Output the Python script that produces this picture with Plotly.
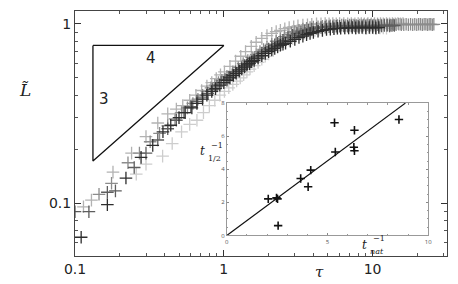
import plotly.graph_objects as go

# ---------------- data: main panel (L~ vs tau), five runs ----------------
tau_a = [0.11, 0.165, 0.22, 0.278, 0.333, 0.39, 0.44, 0.5, 0.55, 0.61,
         0.66, 0.72, 0.77, 0.83, 0.88, 0.94, 1.0, 1.05, 1.1, 1.16,
         1.21, 1.27, 1.32, 1.38, 1.43, 1.49, 1.54, 1.6, 1.7, 1.8,
         1.9, 2.0, 2.1, 2.2, 2.3, 2.4, 2.5, 2.6, 2.8, 3.0,
         3.2, 3.4, 3.6, 3.8, 4.0, 4.3, 4.6, 4.9, 5.2, 5.5,
         5.8, 6.1, 6.5, 6.9, 7.3, 7.7, 8.1, 8.5, 9.0, 9.5,
         10.0, 10.5, 11.0]
L_a = [0.0645, 0.098, 0.138, 0.18, 0.21, 0.25, 0.272, 0.30, 0.32, 0.34,
       0.36, 0.38, 0.40, 0.42, 0.435, 0.455, 0.47, 0.485, 0.50, 0.515,
       0.53, 0.545, 0.56, 0.575, 0.59, 0.60, 0.615, 0.625, 0.645, 0.665,
       0.685, 0.70, 0.715, 0.73, 0.745, 0.76, 0.77, 0.78, 0.80, 0.82,
       0.84, 0.855, 0.87, 0.885, 0.895, 0.91, 0.92, 0.93, 0.935, 0.94,
       0.945, 0.945, 0.95, 0.95, 0.955, 0.95, 0.955, 0.955, 0.95, 0.955,
       0.955, 0.95, 0.955]

tau_b = [0.1, 0.124, 0.165, 0.187, 0.25, 0.3, 0.36, 0.42, 0.48, 0.54,
         0.6, 0.66, 0.72, 0.78, 0.84, 0.9, 0.96, 1.02, 1.08, 1.14,
         1.2, 1.26, 1.32, 1.38, 1.44, 1.5, 1.6, 1.7, 1.8, 1.9,
         2.0, 2.1, 2.2, 2.3, 2.4, 2.5, 2.7, 2.9, 3.1, 3.3,
         3.5, 3.7, 3.9, 4.2, 4.5, 4.8, 5.1, 5.4, 5.7, 6.0,
         6.4, 6.8, 7.2, 7.6, 8.0, 8.5, 9.0, 9.5, 10.0, 10.5,
         11.0, 11.5, 12.0, 12.5, 13.0, 13.5, 14.0]
L_b = [0.0896, 0.0896, 0.115, 0.117, 0.158, 0.19, 0.225, 0.26, 0.29, 0.32,
       0.345, 0.37, 0.39, 0.41, 0.43, 0.45, 0.47, 0.49, 0.505, 0.52,
       0.54, 0.555, 0.57, 0.585, 0.60, 0.615, 0.64, 0.66, 0.685, 0.705,
       0.725, 0.745, 0.76, 0.78, 0.795, 0.81, 0.84, 0.865, 0.885, 0.90,
       0.915, 0.925, 0.935, 0.945, 0.955, 0.96, 0.965, 0.965, 0.97, 0.97,
       0.975, 0.97, 0.975, 0.975, 0.97, 0.975, 0.975, 0.98, 0.975, 0.975,
       0.98, 0.975, 0.98, 0.98, 0.975, 0.98, 0.98]

tau_c = [0.145, 0.176, 0.227, 0.271, 0.32, 0.37, 0.42, 0.47, 0.52, 0.57,
         0.62, 0.67, 0.72, 0.77, 0.82, 0.87, 0.92, 0.97, 1.05, 1.15,
         1.25, 1.35, 1.45, 1.55, 1.65, 1.75, 1.85, 1.95, 2.1, 2.25,
         2.4, 2.55, 2.7, 2.85, 3.0, 3.2, 3.4, 3.6, 3.8, 4.0,
         4.3, 4.6, 4.9, 5.2, 5.5, 5.8, 6.2, 6.6, 7.0, 7.4,
         7.8, 8.2, 8.7, 9.2, 9.7, 10.2, 10.8, 11.4, 12.0, 12.6,
         13.2, 13.8, 14.4, 15.0, 15.6, 16.2, 16.8, 17.4, 18.0, 18.6,
         19.2, 19.8, 20.4, 21.0, 21.6, 22.2, 22.8, 23.4, 24.0, 24.6,
         25.2, 25.8]
L_c = [0.112, 0.129, 0.168, 0.19, 0.22, 0.245, 0.27, 0.295, 0.32, 0.34,
       0.36, 0.38, 0.40, 0.42, 0.44, 0.455, 0.47, 0.485, 0.51, 0.54,
       0.57, 0.60, 0.625, 0.65, 0.675, 0.70, 0.72, 0.74, 0.77, 0.80,
       0.825, 0.85, 0.87, 0.89, 0.905, 0.92, 0.935, 0.945, 0.955, 0.96,
       0.965, 0.97, 0.975, 0.975, 0.98, 0.98, 0.985, 0.98, 0.985, 0.985,
       0.98, 0.985, 0.985, 0.99, 0.985, 0.985, 0.99, 0.985, 0.99, 0.99,
       0.985, 0.99, 0.99, 0.995, 0.99, 0.99, 0.995, 0.99, 0.995, 0.99,
       0.995, 0.99, 0.995, 0.995, 0.99, 0.995, 0.995, 0.99, 0.995, 0.995,
       0.99, 0.995]

tau_d = [0.114, 0.129, 0.18, 0.24, 0.3, 0.36, 0.42, 0.48, 0.53, 0.59,
         0.65, 0.71, 0.77, 0.83, 0.89, 0.95, 1.01, 1.1, 1.2, 1.3,
         1.4, 1.53, 1.65, 1.8, 1.95, 2.1, 2.25, 2.4, 2.57, 2.75,
         2.95, 3.15, 3.4, 3.65, 3.9, 4.2, 4.5, 4.8, 5.1, 5.4,
         5.7, 6.0, 6.4, 6.8, 7.2, 7.6, 8.0, 8.4, 8.8, 9.3,
         9.8, 10.3, 10.8, 11.3, 11.8, 12.4, 13.0, 13.6, 14.2, 14.8,
         15.4, 16.0]
L_d = [0.0954, 0.104, 0.149, 0.19, 0.235, 0.28, 0.315, 0.335, 0.35, 0.375,
       0.40, 0.425, 0.45, 0.47, 0.495, 0.52, 0.54, 0.58, 0.62, 0.66,
       0.70, 0.75, 0.79, 0.83, 0.86, 0.885, 0.905, 0.92, 0.94, 0.955,
       0.965, 0.975, 0.985, 0.99, 0.995, 1.0, 1.0, 1.005, 1.0, 1.005,
       1.0, 1.005, 1.005, 1.0, 1.005, 1.0, 1.005, 1.005, 1.0, 1.005,
       1.0, 1.005, 1.0, 1.005, 1.0, 1.005, 1.0, 1.005, 1.0, 1.005,
       1.0, 1.005]

tau_e = [0.258, 0.3, 0.388, 0.45, 0.52, 0.59, 0.66, 0.73, 0.8, 0.87,
         0.94, 1.01, 1.08, 1.15, 1.22, 1.29, 1.36, 1.43, 1.5, 1.6,
         1.7, 1.8, 1.9, 2.0, 2.15, 2.3, 2.45, 2.6, 2.75, 2.9,
         3.05, 3.25, 3.45, 3.65, 3.85, 4.1, 4.35, 4.6, 4.9, 5.2,
         5.5, 5.8, 6.1, 6.5, 6.9, 7.3, 7.7, 8.1, 8.6, 9.1,
         9.6, 10.1, 10.6, 11.2, 11.8, 12.4]
L_e = [0.145, 0.165, 0.183, 0.215, 0.25, 0.275, 0.29, 0.32, 0.35, 0.375,
       0.40, 0.42, 0.44, 0.46, 0.48, 0.50, 0.52, 0.54, 0.56, 0.585,
       0.61, 0.635, 0.66, 0.68, 0.71, 0.74, 0.765, 0.79, 0.81, 0.83,
       0.85, 0.87, 0.885, 0.90, 0.91, 0.92, 0.93, 0.935, 0.94, 0.94,
       0.945, 0.945, 0.95, 0.945, 0.95, 0.95, 0.945, 0.95, 0.95, 0.945,
       0.95, 0.95, 0.945, 0.95, 0.95, 0.945]

series = [  # (tau, L, grey shade) drawn light first, dark on top
    (tau_e, L_e, "#cdcdcd"),
    (tau_d, L_d, "#b2b2b2"),
    (tau_c, L_c, "#8c8c8c"),
    (tau_b, L_b, "#5e5e5e"),
    (tau_a, L_a, "#2e2e2e"),
]

# slope triangle (3:4) vertices in data units
tri_tau = [0.132, 1.0, 0.132, 0.132]
tri_L = [0.758, 0.758, 0.172, 0.758]

# ---------------- data: inset ----------------
inv_tnat = [2.06, 2.47, 2.52, 2.55, 3.67, 4.17, 4.04, 5.35, 5.39, 6.34, 6.31, 6.34, 8.55]
inv_thalf = [2.21, 2.27, 2.21, 0.59, 3.44, 3.95, 2.94, 6.81, 5.04, 6.36, 5.33, 5.12, 7.01]
fit_x = [0, 8.87]
fit_y = [0, 8]

main_ticks = [0.1, 1, 10]
main_ticktext = ["0.1", "1", "10"]
y_ticks = [0.1, 1]
y_ticktext = ["0.1", "1"]

# ---------------- figure ----------------
fig = go.Figure()
for t, L, col in series:
    fig.add_trace(go.Scatter(
        x=t, y=L, mode="markers", showlegend=False,
        marker=dict(symbol="cross-thin", size=9, line=dict(width=1.3, color=col), color=col),
        xaxis="x", yaxis="y"))

fig.add_trace(go.Scatter(x=tri_tau, y=tri_L, mode="lines", showlegend=False,
                         line=dict(color="#111", width=1.3), xaxis="x", yaxis="y"))

fig.add_trace(go.Scatter(x=fit_x, y=fit_y, mode="lines", showlegend=False,
                         line=dict(color="#111", width=1.2), xaxis="x2", yaxis="y2"))
fig.add_trace(go.Scatter(x=inv_tnat, y=inv_thalf, mode="markers", showlegend=False,
                         marker=dict(symbol="cross-thin", size=6, line=dict(width=1.6, color="#111")),
                         xaxis="x2", yaxis="y2"))

L_l, L_r, L_t, L_b = 75, 8, 7, 27
W, H = 458, 284
pw, ph = W - L_l - L_r, H - L_t - L_b


def px(xp, yp):
    return (xp - L_l) / pw, (H - L_b - yp) / ph


minor_x = [0.2, 0.3, 0.4, 0.5, 0.6, 0.7, 0.8, 0.9, 2, 3, 4, 5, 6, 7, 8, 9, 20, 30]
minor_y = [0.06, 0.07, 0.08, 0.09, 0.2, 0.3, 0.4, 0.5, 0.6, 0.7, 0.8, 0.9]

axis_font = dict(family="DejaVu Sans", size=14, color="#222")

fig.update_layout(
    width=W, height=H,
    margin=dict(l=L_l, r=L_r, t=L_t, b=L_b),
    paper_bgcolor="white", plot_bgcolor="white",
    xaxis=dict(type="log", range=[-1, 1.5], tickvals=main_ticks, ticktext=main_ticktext,
               ticks="inside", ticklen=6, tickcolor="#333", showline=True, linecolor="#444",
               linewidth=1, mirror="ticks", showgrid=False, zeroline=False, tickfont=axis_font,
               minor=dict(tickvals=minor_x, ticks="inside", ticklen=3, tickcolor="#555"),
               domain=[0, 1]),
    yaxis=dict(type="log", range=[-1.295, 0.072], tickvals=y_ticks, ticktext=y_ticktext,
               ticks="inside", ticklen=6, tickcolor="#333", showline=True, linecolor="#444",
               linewidth=1, mirror="ticks", showgrid=False, zeroline=False, tickfont=axis_font,
               minor=dict(tickvals=minor_y, ticks="inside", ticklen=3, tickcolor="#555"),
               domain=[0, 1]),
    xaxis2=dict(range=[0, 10], domain=[px(228, 0)[0], px(431, 0)[0]], anchor="y2",
                tickvals=[0, 5, 10], ticks="inside", ticklen=2, tickcolor="#888",
                showline=True, linecolor="#999", linewidth=1, mirror="ticks",
                showgrid=False, zeroline=False, tickfont=dict(size=6, color="#555"),
                minor=dict(dtick=1, ticks="inside", ticklen=1.5, tickcolor="#999")),
    yaxis2=dict(range=[0, 8], domain=[px(0, 236)[1], px(0, 101)[1]], anchor="x2",
                tickvals=[0, 2, 4, 6, 8], ticks="inside", ticklen=2, tickcolor="#888",
                showline=True, linecolor="#999", linewidth=1, mirror="ticks",
                showgrid=False, zeroline=False, tickfont=dict(size=6, color="#555"),
                minor=dict(dtick=0.5, ticks="inside", ticklen=1.5, tickcolor="#999")),
)

serif_it = dict(family="DejaVu Serif", color="#222")
ann = [
    ("4", 152, 55, dict(family="DejaVu Sans", size=15, color="#222")),
    ("3", 104, 97, dict(family="DejaVu Sans", size=15, color="#222")),
    ("<i>L\u0303</i>", 25, 88, dict(serif_it, size=17)),
    ("<i>\u03c4</i>", 321, 273, dict(serif_it, size=15)),
    ("<i>t</i>", 204, 150, dict(serif_it, size=12)),
    ("\u22121", 218, 144, dict(serif_it, size=8)),
    ("1/2", 216, 157, dict(serif_it, size=8)),
    ("<i>t</i>", 367, 246, dict(serif_it, size=12)),
    ("\u22121", 381, 239, dict(serif_it, size=8)),
    ("<i>nat</i>", 379, 252, dict(serif_it, size=8)),
]
for text, xp, yp, f in ann:
    ax_, ay_ = px(xp, yp)
    fig.add_annotation(text=text, x=ax_, y=ay_, xref="paper", yref="paper",
                       showarrow=False, font=f, xanchor="center", yanchor="middle")

fig.write_html("out.html", config={"displayModeBar": False},
               post_script="document.body.style.margin='0';")
